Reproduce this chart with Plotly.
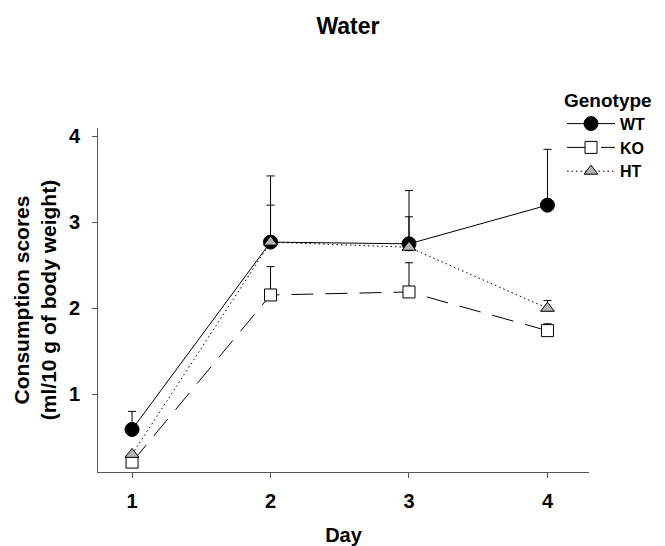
import plotly.graph_objects as go

days = [1, 2, 3, 4]
wt = [0.59, 2.77, 2.75, 3.20]
wt_err = [0.21, 0.77, 0.62, 0.65]
ko = [0.21, 2.155, 2.19, 1.74]
ko_err = [0.0, 0.33, 0.34, 0.08]
ht = [0.30, 2.77, 2.71, 2.00]
ht_err = [0.0, 0.43, 0.355, 0.09]

FONT = "Liberation Sans, Arial, sans-serif"
# the page body has an 8px default margin; size the figure so it fits the window
W, H = 657, 538

def trace(name, y, err, dash, symbol, fill, size):
    return go.Scatter(
        x=days, y=y, name=name, mode="lines+markers",
        line=dict(color="black", width=1, dash=dash),
        marker=dict(symbol=symbol, size=size, color=fill,
                    line=dict(color="black", width=1)),
        error_y=dict(type="data", symmetric=False, array=err,
                     arrayminus=[0] * len(err), color="black",
                     thickness=1, width=4),
    )

fig = go.Figure()
fig.add_trace(trace("WT", wt, wt_err, "solid", "circle", "black", 14))
fig.add_trace(trace("KO", ko, ko_err, "22px,12px", "square", "white", 12))
fig.add_trace(trace("HT", ht, ht_err, "1.5px,3px", "triangle-up", "#b4b4b4", 12))

fig.update_layout(
    width=W, height=H,
    margin=dict(l=90, r=76, t=120, b=74, autoexpand=False),
    paper_bgcolor="white", plot_bgcolor="white",
    font=dict(family=FONT, size=20, color="black", weight="bold"),
    title=dict(text="Water", x=340 / W, xanchor="center",
               y=1 - 18 / H, yanchor="middle",
               font=dict(size=23, weight="bold")),
    xaxis=dict(range=[0.754, 4.3], tickvals=days, ticktext=["1", "2", "3", "4"],
               showgrid=False, zeroline=False, showline=True, automargin=False,
               linecolor="#555555", linewidth=1, ticks="outside",
               ticklen=5, tickcolor="#555555", ticklabelstandoff=6,
               title=dict(text="Day", standoff=20,
                          font=dict(size=20, weight="bold")),
               tickfont=dict(size=20, weight="bold")),
    yaxis=dict(range=[0.095, 4.098], tickvals=[1, 2, 3, 4],
               showgrid=False, zeroline=False, showline=True, automargin=False,
               linecolor="#555555", linewidth=1, ticks="outside",
               ticklen=5, tickcolor="#555555", ticklabelstandoff=8,
               title=dict(text="Consumption scores<br>(ml/10 g of body weight)",
                          standoff=6, font=dict(size=21, weight="bold")),
               tickfont=dict(size=20, weight="bold")),
    legend=dict(xref="container", yref="container",
                x=554 / W, y=1 - 74 / H, xanchor="left", yanchor="top",
                bgcolor="rgba(0,0,0,0)",
                title=dict(text="Genotype", font=dict(size=19, weight="bold")),
                font=dict(size=16, weight="bold"),
                tracegroupgap=0, itemwidth=48),
    showlegend=True,
)

fig.write_html("out.html")
